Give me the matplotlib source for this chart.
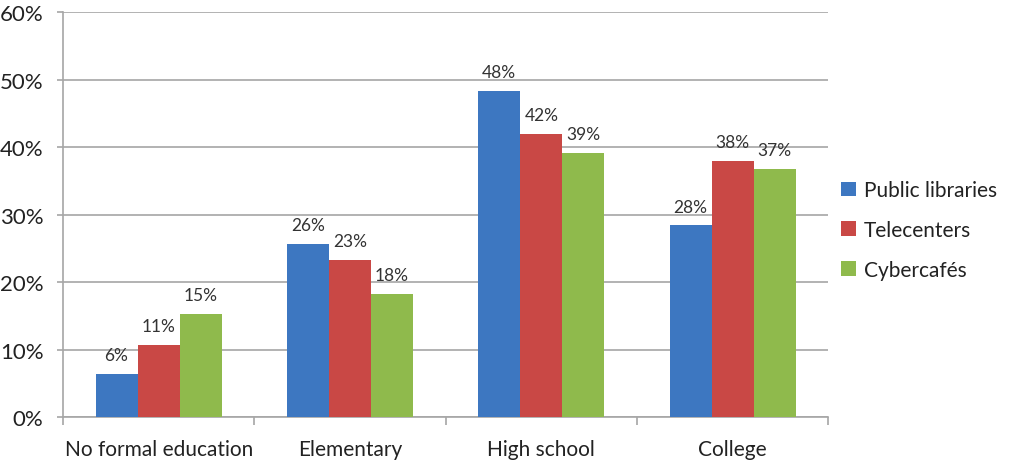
import numpy as np
import matplotlib.pyplot as plt
from matplotlib.ticker import MultipleLocator, FuncFormatter

plt.rcParams['font.family'] = ['Lato', 'DejaVu Sans']

categories = ['No formal education', 'Elementary', 'High school', 'College']
series = ['Public libraries', 'Telecenters', 'Cybercafés']
public_libraries = [6.4, 25.6, 48.3, 28.4]
telecenters = [10.7, 23.3, 42.0, 38.0]
cybercafes = [15.3, 18.2, 39.1, 36.7]
colors = ['#3d77c1', '#c94845', '#8fba4c']

fig = plt.figure(figsize=(10.11, 4.64), dpi=100)
ax = fig.add_axes([0.0623, 0.099, 0.757, 0.873])

x = np.arange(len(categories))
width = 0.22
grey = '#a6a6a6'

for i, (vals, name, col) in enumerate(zip([public_libraries, telecenters, cybercafes], series, colors)):
    pos = x + (i - 1) * width
    ax.bar(pos, vals, width, color=col, label=name, zorder=3)
    for px, v in zip(pos, vals):
        ax.text(px, v + 1.6, f'{v:.0f}%', ha='center', va='bottom', fontsize=12.5, color='#333333', zorder=4)

ax.set_xlim(-0.5, len(categories) - 0.5)
ax.set_ylim(0, 60)
ax.yaxis.set_major_locator(MultipleLocator(10))
ax.yaxis.set_major_formatter(FuncFormatter(lambda v, p: f'{v:.0f}%'))
ax.grid(axis='y', color=grey, linewidth=1.2, zorder=0)

# category ticks sit on the group boundaries, labels in the middle
ax.set_xticks(np.arange(len(categories) + 1) - 0.5)
ax.set_xticklabels([])
ax.set_xticks(x, minor=True)
ax.set_xticklabels(categories, minor=True, fontsize=15, color='#222222')
ax.tick_params(axis='x', which='major', length=6, color=grey, width=1.2)
ax.tick_params(axis='x', which='minor', length=0, pad=16)
ax.tick_params(axis='y', length=4, color=grey, width=1.2, labelsize=16, labelcolor='#222222', pad=10)

for s in ['top', 'right']:
    ax.spines[s].set_visible(False)
for s in ['left', 'bottom']:
    ax.spines[s].set_color(grey)
    ax.spines[s].set_linewidth(1.2)

fig.legend(loc='center left', bbox_to_anchor=(0.832, 0.502), frameon=False, fontsize=15,
           handlelength=0.7, handleheight=0.7, handletextpad=0.4, labelspacing=0.95,
           labelcolor='#222222', borderaxespad=0, borderpad=0)

fig.savefig('out.png', dpi=100, facecolor='white')
